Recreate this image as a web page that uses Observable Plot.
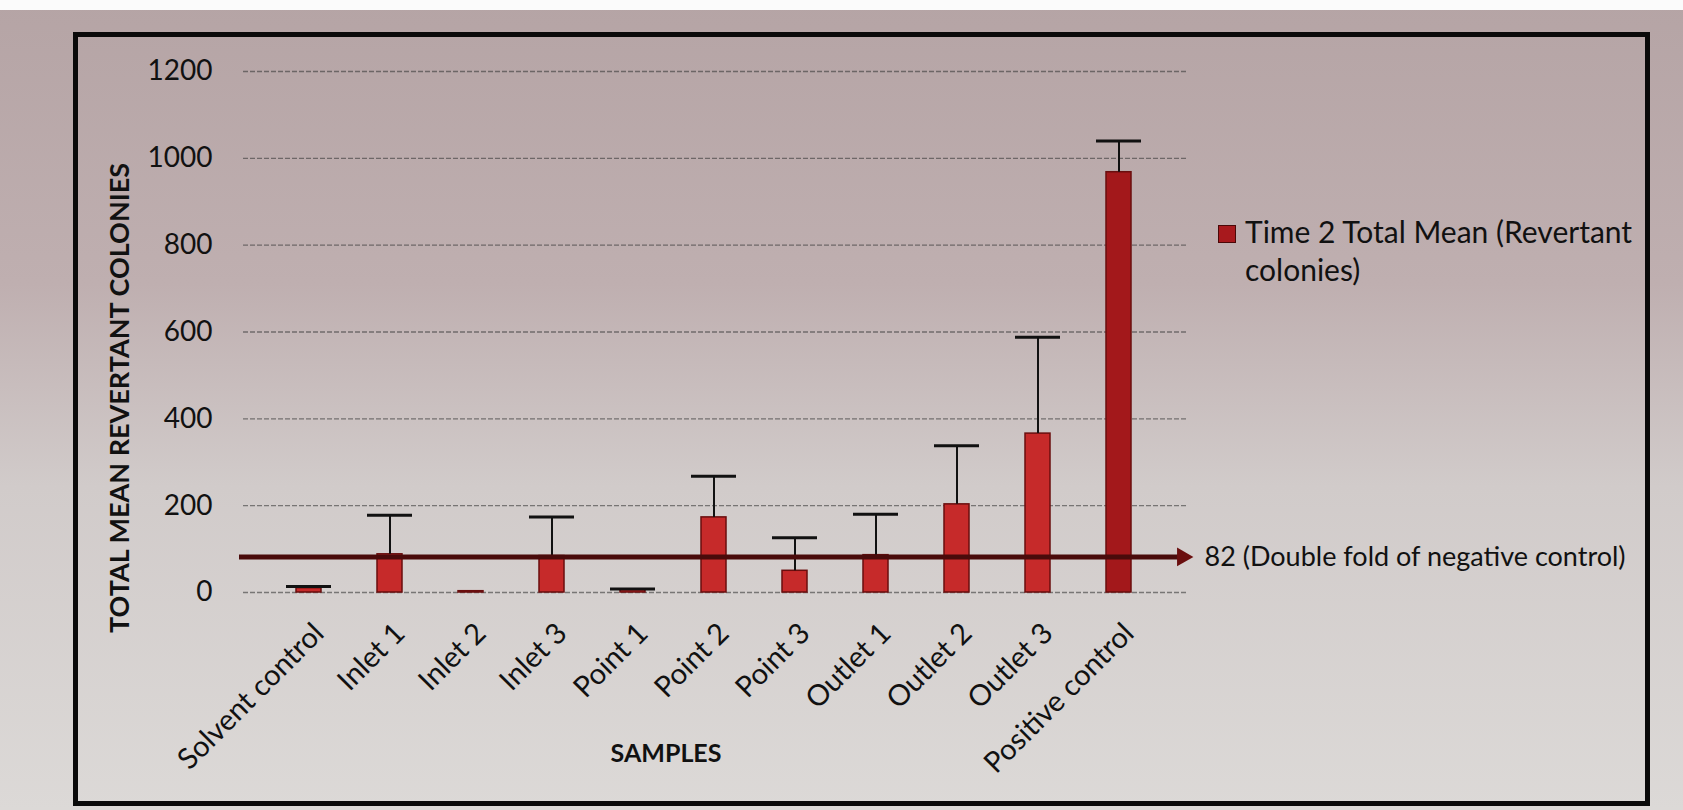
<!DOCTYPE html>
<html>
<head>
<meta charset="utf-8">
<script src="https://cdn.jsdelivr.net/npm/d3@7"></script>
<script src="https://cdn.jsdelivr.net/npm/@observablehq/plot@0.6"></script>
<style>
  html, body { margin: 0; padding: 0; }
  body {
    width: 1683px; height: 810px; overflow: hidden; position: relative;
    font-family: Lato, "Open Sans", sans-serif;
    background: linear-gradient(to bottom, #b5a4a5 0%, #bfafb0 35%, #d1cbca 60%, #dcd9d7 100%);
  }
  #topstrip { position: absolute; left: 0; top: 0; width: 1683px; height: 10px; background: #fbfbfb; }
  #frame { position: absolute; left: 73px; top: 32px; width: 1567px; height: 764px; border: 5px solid #0a0a0a; }
  #chart { position: absolute; left: 0; top: 0; }
  #legend { position: absolute; left: 1218px; top: 212px; font-size: 30px; line-height: 38px; color: #111; }
  #legend .sw { position: absolute; left: 0; top: 13px; width: 16px; height: 16px; background: #a8191d; border: 1px solid #4a0808; }
  #legend .tx { margin-left: 27px; white-space: nowrap; }
</style>
</head>
<body>
<div id="topstrip"></div>
<div id="frame"></div>
<div id="chart"></div>
<div id="legend"><div class="sw"></div><div class="tx">Time 2 Total Mean (Revertant<br>colonies)</div></div>
<script>
const samples = ["Solvent control", "Inlet 1", "Inlet 2", "Inlet 3", "Point 1", "Point 2", "Point 3", "Outlet 1", "Outlet 2", "Outlet 3", "Positive control"];
const means   = [10, 88, 3, 84, 6, 173, 50, 86, 203, 366, 968];
const errors  = [4, 90, 0, 90, 2, 95, 76, 94, 135, 222, 72];
const yTicks  = [0, 200, 400, 600, 800, 1000, 1200];
const refValue = 82;
const refLabel = "82 (Double fold of negative control)";
const yLabel = "TOTAL MEAN REVERTANT COLONIES";
const xLabel = "SAMPLES";

const data = samples.map((s, i) => ({sample: s, mean: means[i], err: errors[i], upper: means[i] + errors[i]}));
const withErr = data.filter(d => d.err > 0);

const chart = Plot.plot({
  width: 1683,
  height: 810,
  marginLeft: 239,
  marginRight: 495,
  marginTop: 71,
  marginBottom: 218,
  style: {fontFamily: "Lato, sans-serif", fontSize: "28px", background: "transparent", color: "#111", overflow: "visible"},
  x: {domain: samples, padding: 0.69, axis: null},
  y: {domain: [0, 1200], ticks: yTicks, axis: null},
  marks: [
    Plot.gridY(yTicks, {stroke: "#3a3a3a", strokeOpacity: 0.6, strokeWidth: 1.3, strokeDasharray: "5,2", insetLeft: 4}),
    Plot.axisY(yTicks, {tickSize: 0, tickPadding: 27, fontSize: 28, label: null, fill: "#111", tickFormat: d3.format("d")}),
    Plot.barY(data, {x: "sample", y: "mean", fill: d => d.sample === "Positive control" ? "#a3181b" : "#c62a2a", stroke: "#6a0e0e", strokeWidth: 1.5}),
    Plot.ruleX(withErr, {x: "sample", y1: "mean", y2: "upper", stroke: "#111", strokeWidth: 2}),
    Plot.tickY(withErr, {x: "sample", y: "upper", stroke: "#111", strokeWidth: 3, insetLeft: 35, insetRight: 35}),
    Plot.ruleY([refValue], {stroke: "#4a0b0b", strokeWidth: 5}),
    Plot.dot([refValue], {y: d => d, frameAnchor: "right", symbol: "triangle", r: 7, rotate: 90, fill: "#6a0e0e", dx: -6}),
    Plot.text([refLabel], {y: () => refValue, text: d => d, frameAnchor: "right", textAnchor: "start", dx: 16, fontSize: 27, fill: "#111"}),
    Plot.text(samples, {x: d => d, y: () => 0, text: d => d, rotate: -45, textAnchor: "end", lineAnchor: "middle", dx: 10, dy: 36, fontSize: 29, fill: "#111"}),
    Plot.text([xLabel], {frameAnchor: "bottom", text: d => d, textAnchor: "middle", dx: -48, dy: 169, fontSize: 25, fontWeight: "bold", fill: "#111"}),
    Plot.text([yLabel], {frameAnchor: "left", text: d => d, textAnchor: "middle", lineAnchor: "middle", rotate: -90, dx: -119, dy: 66, fontSize: 27, fontWeight: "bold", fill: "#111"})
  ]
});
document.getElementById("chart").appendChild(chart);
</script>
</body>
</html>
